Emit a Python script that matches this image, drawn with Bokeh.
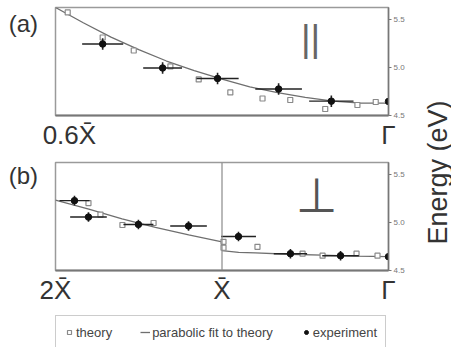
import numpy as np
from bokeh.plotting import figure
from bokeh.models import (Range1d, LinearAxis, FixedTicker, PrintfTickFormatter,
                          Label, Span, Legend, LegendItem)
from bokeh.layouts import row, column
from bokeh.embed import file_html
from bokeh.resources import INLINE

XBAR = "X\u0304"

# ---- panel (a): parallel polarisation, k in units of X-bar (0.6 X-bar .. Gamma)
a_theory_k = [0.578, 0.515, 0.459, 0.393, 0.342, 0.285, 0.227, 0.177, 0.114, 0.056, 0.023]
a_theory_e = [5.578, 5.316, 5.180, 5.013, 4.877, 4.741, 4.678, 4.662, 4.568, 4.610, 4.641]

a_fit_k = [0.60, 0.55, 0.50, 0.45, 0.40, 0.35, 0.30, 0.25, 0.20, 0.15, 0.10, 0.05, 0.00]
a_fit_e = [5.63, 5.47, 5.32, 5.19, 5.07, 4.97, 4.88, 4.80, 4.74, 4.69, 4.65, 4.63, 4.63]

a_exp_k = [0.515, 0.407, 0.308, 0.198, 0.103, 0.0]
a_exp_e = [5.248, 4.997, 4.887, 4.777, 4.650, 4.647]
a_exp_dk = [0.037, 0.035, 0.038, 0.042, 0.040, 0.0]
a_exp_de = [0.06, 0.06, 0.06, 0.06, 0.06, 0.03]

a_ticks = [0.575, 0.0]
a_tick_labels = ["0.6" + XBAR, "\u0393"]

# ---- panel (b): perpendicular polarisation, k from 2 X-bar through X-bar to Gamma
b_theory_k = [1.802, 1.730, 1.598, 1.411, 0.991, 0.991, 0.787, 0.516, 0.396, 0.192, 0.066]
b_theory_e = [5.205, 5.085, 4.976, 4.997, 4.800, 4.738, 4.748, 4.676, 4.655, 4.676, 4.655]

b_fit_left_k = [2.0, 1.8, 1.6, 1.4, 1.2, 1.0]
b_fit_left_e = [5.236, 5.142, 5.039, 4.951, 4.873, 4.800]
b_fit_right_k = [1.0, 0.9, 0.8, 0.6, 0.4, 0.2, 0.0]
b_fit_right_e = [4.707, 4.690, 4.684, 4.670, 4.660, 4.650, 4.645]

b_exp_k = [1.886, 1.802, 1.502, 1.201, 0.901, 0.589, 0.288, 0.0]
b_exp_e = [5.231, 5.059, 4.982, 4.966, 4.855, 4.676, 4.655, 4.645]
b_exp_dk = [0.09, 0.11, 0.09, 0.11, 0.105, 0.10, 0.11, 0.0]
b_exp_de = [0.05, 0.05, 0.05, 0.05, 0.05, 0.05, 0.05, 0.03]

b_ticks = [2.0, 1.0, 0.0]
b_tick_labels = ["2" + XBAR, XBAR, "\u0393"]

energy_ticks = [4.5, 5.0, 5.5]
E_RANGE = (4.50, 5.63)

FONT = "Liberation Sans"
TOTAL_W, TOTAL_H = 451, 349
LEFT_W, RIGHT_W = 38, 36
PANEL_W = TOTAL_W - LEFT_W - RIGHT_W

THEORY_STYLE = dict(marker="square", size=5, fill_color="white",
                    line_color="#8a8a8a", line_width=1.2)
FIT_STYLE = dict(line_color="#6f6f6f", line_width=1.3)
EXP_STYLE = dict(marker="circle", size=6.5, fill_color="#111111", line_color="#111111")


def bare_figure(width, height, **kw):
    p = figure(width=width, height=height, output_backend="svg",
               toolbar_location=None, x_axis_location=None, y_axis_location=None,
               outline_line_color=None, **kw)
    p.grid.visible = False
    return p


def make_panel(height, border_bottom, k_start, k_end, ticks, labels):
    p = figure(width=PANEL_W, height=height, output_backend="svg",
               toolbar_location=None, x_range=Range1d(k_start, k_end),
               y_range=Range1d(*E_RANGE), y_axis_location=None,
               min_border_left=55 - LEFT_W, min_border_right=27, min_border_top=7,
               min_border_bottom=border_bottom,
               outline_line_color="#9a9a9a", outline_line_width=1.5,
               background_fill_color="white", border_fill_color="white")
    p.grid.visible = False

    xa = p.xaxis[0]
    xa.ticker = FixedTicker(ticks=ticks)
    xa.major_label_overrides = {t: s for t, s in zip(ticks, labels)}
    xa.major_tick_line_color = None
    xa.major_tick_out = 0
    xa.major_tick_in = 0
    xa.minor_tick_line_color = None
    xa.axis_line_color = "#777777"
    xa.axis_line_width = 2
    xa.major_label_text_font = FONT
    xa.major_label_text_font_size = "26px"
    xa.major_label_text_color = "#333333"
    xa.major_label_standoff = 4

    ra = LinearAxis(ticker=FixedTicker(ticks=energy_ticks),
                    formatter=PrintfTickFormatter(format="%.1f"))
    ra.major_tick_in = 0
    ra.major_tick_out = 3
    ra.major_tick_line_color = "#777777"
    ra.minor_tick_line_color = None
    ra.axis_line_color = "#777777"
    ra.axis_line_width = 1.5
    ra.major_label_text_font = FONT
    ra.major_label_text_font_size = "8px"
    ra.major_label_text_color = "#777777"
    ra.major_label_standoff = 2
    p.add_layout(ra, "right")
    return p


def draw_data(p, th_k, th_e, fits, ex_k, ex_e, ex_dk, ex_de):
    for fk, fe in fits:
        p.line(fk, fe, **FIT_STYLE)
    p.scatter(th_k, th_e, **THEORY_STYLE)
    k = np.array(ex_k)
    e = np.array(ex_e)
    dk = np.array(ex_dk)
    de = np.array(ex_de)
    p.segment(x0=k - dk, x1=k + dk, y0=e, y1=e, line_color="#222222", line_width=1.4)
    p.segment(x0=k, x1=k, y0=e - de, y1=e + de, line_color="#222222", line_width=1.6)
    p.scatter(ex_k, ex_e, **EXP_STYLE)


# panel (a)
pa = make_panel(155, 40, 0.6, 0.0, a_ticks, a_tick_labels)
draw_data(pa, a_theory_k, a_theory_e, [(a_fit_k, a_fit_e)],
          a_exp_k, a_exp_e, a_exp_dk, a_exp_de)
pa.add_layout(Label(x=0.1405, y=5.31, text="||", text_font=FONT,
                    text_font_size="37px", text_color="#666666",
                    text_align="center", text_baseline="middle"))

# panel (b)
pb = make_panel(152, 37, 2.0, 0.0, b_ticks, b_tick_labels)
pb.add_layout(Span(location=1.0, dimension="height", line_color="#8a8a8a",
                   line_width=1.2))
draw_data(pb, b_theory_k, b_theory_e,
          [(b_fit_left_k, b_fit_left_e), (b_fit_right_k, b_fit_right_e)],
          b_exp_k, b_exp_e, b_exp_dk, b_exp_de)
pb.add_layout(Label(x=0.432, y=5.285, text="\u22a5", text_font="DejaVu Sans",
                    text_font_size="48px", text_color="#555555",
                    text_align="center", text_baseline="middle"))

# legend strip under panel (b); its key glyphs sit outside the strip's ranges
pleg = bare_figure(PANEL_W, TOTAL_H - 155 - 152,
                   min_border_left=55 - LEFT_W, min_border_right=27,
                   min_border_top=8, min_border_bottom=2,
                   x_range=Range1d(0, 1), y_range=Range1d(0, 1))
key_x, key_y = [-5.0], [-5.0]
leg_th = pleg.scatter(key_x, key_y, **THEORY_STYLE)
leg_fit = pleg.line(key_x * 2, key_y * 2, **FIT_STYLE)
leg_ex = pleg.scatter(key_x, key_y, **EXP_STYLE)
legend = Legend(items=[LegendItem(label="theory", renderers=[leg_th]),
                       LegendItem(label="parabolic fit to theory", renderers=[leg_fit]),
                       LegendItem(label="experiment", renderers=[leg_ex])],
                orientation="horizontal", location="top_left",
                glyph_width=10, glyph_height=16, label_height=16,
                label_standoff=2, spacing=28, padding=8, margin=0,
                label_text_font=FONT, label_text_font_size="13px",
                label_text_color="#444444",
                border_line_color="#9a9a9a", border_line_width=1.5,
                background_fill_color="white", background_fill_alpha=1.0)
pleg.add_layout(legend)

# panel letters on the left
pl = bare_figure(LEFT_W, TOTAL_H, min_border=0, min_border_left=0,
                 min_border_right=0, min_border_top=0, min_border_bottom=0,
                 x_range=Range1d(0, LEFT_W), y_range=Range1d(TOTAL_H, 0))
for letter, top in [("(a)", 9), ("(b)", 161)]:
    pl.add_layout(Label(x=LEFT_W - 0.5, y=top, text=letter, text_font=FONT,
                        text_font_size="24px", text_color="#333333",
                        text_align="right", text_baseline="top"))

# shared energy label on the right
plab = bare_figure(RIGHT_W, TOTAL_H, min_border=0, min_border_left=0,
                   min_border_right=0, min_border_top=0, min_border_bottom=0,
                   x_range=Range1d(0, RIGHT_W), y_range=Range1d(TOTAL_H, 0))
plab.add_layout(Label(x=22, y=172, text="Energy (eV)", angle=np.pi / 2,
                      text_align="center", text_baseline="middle", text_font=FONT,
                      text_font_size="27px", text_color="#333333"))

layout = row(pl, column(pa, pb, pleg), plab)
open("out.html", "w").write(file_html(layout, INLINE))
